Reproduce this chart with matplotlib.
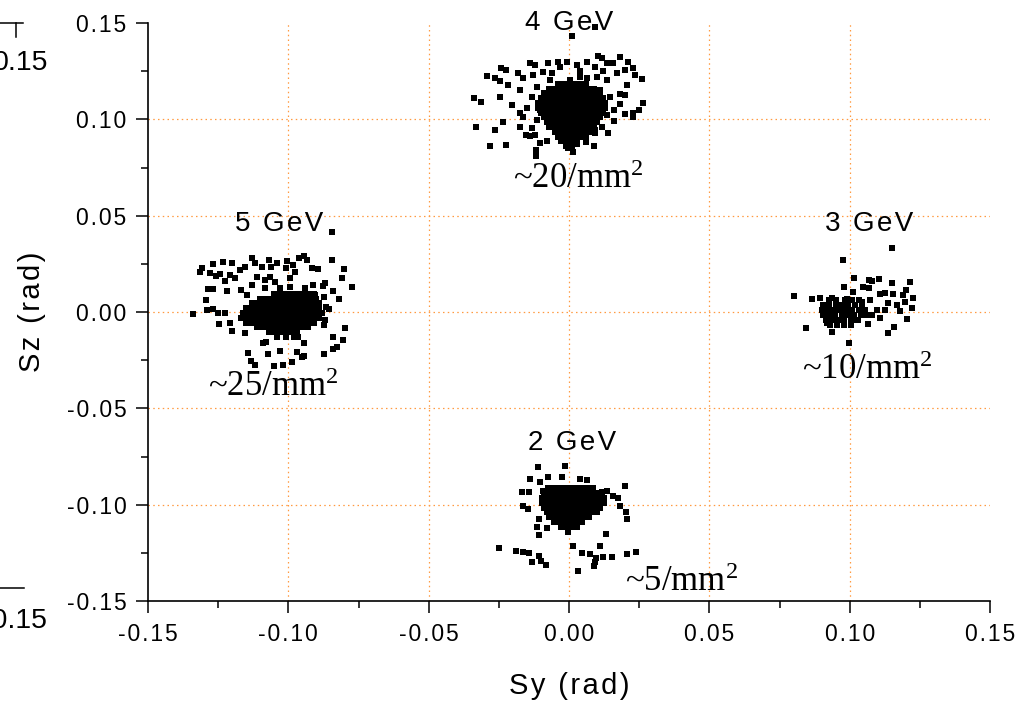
import matplotlib
matplotlib.use("Agg")
import matplotlib.pyplot as plt
from matplotlib.ticker import MultipleLocator, FuncFormatter
from matplotlib.lines import Line2D

plt.rcParams['font.family'] = ['Liberation Sans', 'DejaVu Sans']
plt.rcParams['mathtext.fontset'] = 'custom'
plt.rcParams['mathtext.rm'] = 'Liberation Serif'
plt.rcParams['mathtext.it'] = 'Liberation Serif:italic'

# ---------------- data (Sy, Sz in rad) ----------------
gev4_outer = [(0.0012, 0.1432), (0.0093, 0.1480), (-0.0293, 0.1224), (-0.0339, 0.1112), (-0.0315, 0.1091),
              (-0.0331, 0.0961), (-0.0282, 0.0861), (-0.0224, 0.0866), (-0.0264, 0.0944), (-0.0234, 0.0987),
              (-0.0243, 0.1264), (-0.0226, 0.1255), (-0.0264, 0.1212), (-0.0246, 0.1198), (-0.0216, 0.1177),
              (-0.0246, 0.1117), (-0.0204, 0.1074), (-0.0175, 0.1151), (-0.0181, 0.1241), (-0.0163, 0.1212),
              (-0.0139, 0.1290), (-0.0121, 0.1281), (-0.0129, 0.1229), (-0.0094, 0.1246), (-0.0074, 0.1290),
              (-0.0038, 0.1298), (-0.0008, 0.1298), (-0.0032, 0.1272), (0.0027, 0.1281), (0.0063, 0.1298),
              (0.0093, 0.1272), (0.0104, 0.1328), (0.0117, 0.1316), (0.0134, 0.1290), (0.0158, 0.1290),
              (0.0182, 0.1324), (0.0211, 0.1295), (0.0200, 0.1255), (0.0229, 0.1264), (0.0235, 0.1229),
              (0.0259, 0.1207), (0.0170, 0.1238), (0.0205, 0.1177), (0.0182, 0.1134), (0.0200, 0.1126),
              (0.0262, 0.1086), (0.0251, 0.1051), (0.0227, 0.1031), (0.0229, 0.1010), (0.0160, 0.1048),
              (0.0134, 0.1022), (0.0117, 0.0961), (0.0093, 0.0944), (0.0093, 0.0927), (0.0090, 0.0861),
              (0.0027, 0.0871), (0.0015, 0.0831), (-0.0002, 0.0849), (-0.0103, 0.0875), (-0.0118, 0.0840),
              (-0.0118, 0.0811), (-0.0133, 0.0953), (-0.0153, 0.0918), (-0.0139, 0.0913), (-0.0175, 0.0961),
              (-0.0175, 0.1031), (-0.0163, 0.1013), (-0.0133, 0.1117), (-0.0115, 0.1169), (-0.0068, 0.1203),
              (-0.0079, 0.1100), (-0.0103, 0.1048), (-0.0115, 0.0996), (0.0063, 0.1212), (0.0099, 0.1220),
              (0.0134, 0.1203), (0.0110, 0.1151), (0.0146, 0.1117), (0.0039, 0.1220), (0.0004, 0.1203),
              (-0.0060, 0.1240), (0.0040, 0.1250), (0.0120, 0.1250), (-0.0150, 0.1060), (0.0160, 0.0990),
              (0.0140, 0.0930), (-0.0120, 0.0920), (-0.0080, 0.0890), (0.0060, 0.0880), (0.0180, 0.1080),
              (0.0200, 0.1030)]
gev4_core = [(0.1185, [-0.004, -0.002, 0.000, 0.002, 0.004, 0.006]),
             (0.1160, [-0.007, -0.005, -0.003, -0.001, 0.001, 0.003, 0.005, 0.007, 0.009]),
             (0.1135, [-0.009, -0.007, -0.005, -0.003, -0.001, 0.001, 0.003, 0.005, 0.007, 0.009, 0.011]),
             (0.1110, [-0.010, -0.008, -0.006, -0.004, -0.002, 0.000, 0.002, 0.004, 0.006, 0.008, 0.010, 0.012]),
             (0.1085, [-0.011, -0.009, -0.007, -0.005, -0.003, -0.001, 0.001, 0.003, 0.005, 0.007, 0.009, 0.011, 0.013]),
             (0.1060, [-0.011, -0.009, -0.007, -0.005, -0.003, -0.001, 0.001, 0.003, 0.005, 0.007, 0.009, 0.011, 0.013]),
             (0.1035, [-0.010, -0.008, -0.006, -0.004, -0.002, 0.000, 0.002, 0.004, 0.006, 0.008, 0.010, 0.012]),
             (0.1010, [-0.009, -0.007, -0.005, -0.003, -0.001, 0.001, 0.003, 0.005, 0.007, 0.009, 0.011]),
             (0.0985, [-0.008, -0.006, -0.004, -0.002, 0.000, 0.002, 0.004, 0.006, 0.008, 0.010]),
             (0.0960, [-0.007, -0.005, -0.003, -0.001, 0.001, 0.003, 0.005, 0.007, 0.009]),
             (0.0935, [-0.005, -0.003, -0.001, 0.001, 0.003, 0.005, 0.007]),
             (0.0910, [-0.004, -0.002, 0.000, 0.002, 0.004, 0.006]),
             (0.0885, [-0.003, -0.001, 0.001, 0.003]),
             (0.0860, [-0.001, 0.001])]

gev5_outer = [(-0.0846, 0.0413), (-0.1339, -0.0010), (-0.1309, 0.0227), (-0.1315, 0.0209), (-0.1270, 0.0247),
              (-0.1232, 0.0258), (-0.1202, 0.0253), (-0.1279, 0.0201), (-0.1258, 0.0187), (-0.1244, 0.0197),
              (-0.1208, 0.0192), (-0.1226, 0.0161), (-0.1190, 0.0175), (-0.1172, 0.0218), (-0.1155, 0.0235),
              (-0.1131, 0.0279), (-0.1119, 0.0253), (-0.1095, 0.0235), (-0.1068, 0.0270), (-0.1060, 0.0235),
              (-0.1040, 0.0256), (-0.1006, 0.0266), (-0.1009, 0.0227), (-0.0983, 0.0244), (-0.0961, 0.0279),
              (-0.0944, 0.0290), (-0.0933, 0.0270), (-0.0917, 0.0227), (-0.0893, 0.0221), (-0.0846, 0.0270),
              (-0.0802, 0.0221), (-0.0810, 0.0178), (-0.0774, 0.0131), (-0.0840, 0.0110), (-0.0870, 0.0152),
              (-0.0876, 0.0135), (-0.0911, 0.0140), (-0.0819, 0.0067), (-0.0873, 0.0076), (-0.0854, 0.0014),
              (-0.0867, 0.0027), (-0.0870, -0.0041), (-0.0873, -0.0067), (-0.0798, -0.0085), (-0.0842, -0.0128),
              (-0.0804, -0.0145), (-0.0828, -0.0180), (-0.0840, -0.0192), (-0.0873, -0.0219), (-0.0944, -0.0227),
              (-0.0953, -0.0232), (-0.0970, -0.0206), (-0.0988, -0.0258), (-0.1018, -0.0275), (-0.1050, -0.0278),
              (-0.1030, -0.0201), (-0.1074, -0.0218), (-0.1118, -0.0275), (-0.1134, -0.0253), (-0.1143, -0.0214),
              (-0.1080, -0.0154), (-0.1089, -0.0159), (-0.0944, -0.0159), (-0.0965, -0.0128), (-0.1202, -0.0097),
              (-0.1246, -0.0062), (-0.1155, -0.0110), (-0.1289, 0.0010), (-0.1270, 0.0016), (-0.1294, 0.0062),
              (-0.1285, 0.0118), (-0.1270, 0.0118), (-0.1218, 0.0107), (-0.1250, -0.0007), (-0.1226, -0.0004),
              (-0.1208, -0.0059), (-0.1167, 0.0114), (-0.1149, 0.0088), (-0.1131, 0.0140), (-0.1113, 0.0183),
              (-0.1083, 0.0166), (-0.1066, 0.0183), (-0.1048, 0.0157), (-0.1030, 0.0123), (-0.0994, 0.0175),
              (-0.0976, 0.0209), (-0.0941, 0.0123), (-0.0905, 0.0088), (-0.0994, 0.0131), (-0.1083, 0.0123)]
gev5_core = [(0.0095, [-0.105, -0.103, -0.101, -0.099, -0.097, -0.095, -0.093, -0.091]),
             (0.0070, [-0.110, -0.108, -0.106, -0.104, -0.102, -0.100, -0.098, -0.096, -0.094, -0.092, -0.090]),
             (0.0045, [-0.113, -0.111, -0.109, -0.107, -0.105, -0.103, -0.101, -0.099, -0.097, -0.095, -0.093, -0.091, -0.089]),
             (0.0020, [-0.115, -0.113, -0.111, -0.109, -0.107, -0.105, -0.103, -0.101, -0.099, -0.097, -0.095, -0.093, -0.091, -0.089]),
             (-0.0005, [-0.116, -0.114, -0.112, -0.110, -0.108, -0.106, -0.104, -0.102, -0.100, -0.098, -0.096, -0.094, -0.092, -0.090, -0.088]),
             (-0.0030, [-0.117, -0.115, -0.113, -0.111, -0.109, -0.107, -0.105, -0.103, -0.101, -0.099, -0.097, -0.095, -0.093, -0.091, -0.089]),
             (-0.0055, [-0.115, -0.113, -0.111, -0.109, -0.107, -0.105, -0.103, -0.101, -0.099, -0.097, -0.095, -0.093, -0.091]),
             (-0.0080, [-0.111, -0.109, -0.107, -0.105, -0.103, -0.101, -0.099, -0.097, -0.095, -0.093]),
             (-0.0105, [-0.107, -0.105, -0.103, -0.101, -0.099, -0.097]),
             (-0.0130, [-0.104, -0.101, -0.098])]

gev3_outer = [(0.1152, 0.0334), (0.0978, 0.0268), (0.1017, 0.0178), (0.1069, 0.0166), (0.1079, 0.0161),
              (0.1106, 0.0170), (0.1152, 0.0152), (0.1215, 0.0154), (0.0980, 0.0128), (0.1013, 0.0105),
              (0.1049, 0.0131), (0.1070, 0.0123), (0.1108, 0.0092), (0.1126, 0.0097), (0.1154, 0.0093),
              (0.1200, 0.0114), (0.1191, 0.0088), (0.1225, 0.0074), (0.0802, 0.0083), (0.0865, 0.0067),
              (0.0895, 0.0071), (0.0936, 0.0074), (0.0992, 0.0067), (0.0845, -0.0085), (0.0936, -0.0105),
              (0.0998, -0.0159), (0.1138, -0.0110), (0.1158, -0.0076), (0.1203, -0.0036), (0.1221, 0.0022),
              (0.1180, 0.0005), (0.1108, -0.0033), (0.1067, -0.0062), (0.1031, -0.0041), (0.1197, 0.0053),
              (0.1168, 0.0036), (0.1138, 0.0045), (0.1073, 0.0062), (0.1043, 0.0053), (0.1097, 0.0010),
              (0.1126, 0.0010), (0.1079, -0.0016), (0.0918, -0.0059), (0.0912, 0.0019)]
gev3_core = [(0.0060, [0.0925, 0.0950, 0.0985, 0.1010, 0.1035]),
             (0.0035, [0.0905, 0.0928, 0.0950, 0.0972, 0.0995, 0.1020, 0.1045]),
             (0.0010, [0.0900, 0.0922, 0.0944, 0.0966, 0.0988, 0.1010, 0.1032, 0.1055]),
             (-0.0015, [0.0905, 0.0927, 0.0949, 0.0971, 0.0993, 0.1015, 0.1040, 0.1062]),
             (-0.0040, [0.0915, 0.0937, 0.0959, 0.0981, 0.1003, 0.1025]),
             (-0.0065, [0.0930, 0.0955, 0.0980, 0.1005])]

gev2_outer = [(-0.0014, -0.0797), (-0.0109, -0.0807), (-0.0074, -0.0857), (-0.0139, -0.0868), (-0.0103, -0.0880),
              (-0.0026, -0.0857), (0.0039, -0.0868), (0.0063, -0.0871), (0.0200, -0.0901), (-0.0166, -0.0935),
              (-0.0141, -0.0932), (-0.0094, -0.0927), (0.0117, -0.0932), (0.0134, -0.0929), (0.0158, -0.0954),
              (0.0176, -0.0963), (-0.0163, -0.1006), (-0.0145, -0.1020), (0.0182, -0.1006), (0.0203, -0.1036),
              (0.0206, -0.1075), (-0.0106, -0.1074), (-0.0115, -0.1117), (-0.0077, -0.1122), (-0.0107, -0.1160),
              (0.0131, -0.1153), (-0.0248, -0.1226), (-0.0190, -0.1238), (-0.0165, -0.1246), (-0.0144, -0.1252),
              (-0.0107, -0.1266), (-0.0133, -0.1300), (-0.0099, -0.1290), (-0.0082, -0.1314), (0.0013, -0.1217),
              (0.0045, -0.1252), (0.0075, -0.1257), (0.0110, -0.1214), (0.0096, -0.1278), (0.0093, -0.1295),
              (0.0089, -0.1316), (0.0120, -0.1274), (0.0152, -0.1272), (0.0208, -0.1257), (0.0238, -0.1248),
              (0.0032, -0.1343)]
gev2_core = [(-0.0915, [-0.0075, -0.0055, -0.0035, -0.0015, 0.0005, 0.0025, 0.0045, 0.0065, 0.0085]),
             (-0.0940, [-0.0090, -0.0070, -0.0050, -0.0030, -0.0010, 0.0010, 0.0030, 0.0050, 0.0070, 0.0090, 0.0110]),
             (-0.0965, [-0.0095, -0.0075, -0.0055, -0.0035, -0.0015, 0.0005, 0.0025, 0.0045, 0.0065, 0.0085, 0.0105, 0.0125]),
             (-0.0990, [-0.0095, -0.0075, -0.0055, -0.0035, -0.0015, 0.0005, 0.0025, 0.0045, 0.0065, 0.0085, 0.0105, 0.0125]),
             (-0.1015, [-0.0090, -0.0070, -0.0050, -0.0030, -0.0010, 0.0010, 0.0030, 0.0050, 0.0070, 0.0090, 0.0110]),
             (-0.1040, [-0.0080, -0.0060, -0.0040, -0.0020, 0.0000, 0.0020, 0.0040, 0.0060, 0.0080, 0.0100]),
             (-0.1065, [-0.0070, -0.0050, -0.0030, -0.0010, 0.0010, 0.0030, 0.0050, 0.0070]),
             (-0.1090, [-0.0055, -0.0035, -0.0015, 0.0005, 0.0025, 0.0045]),
             (-0.1115, [-0.0030, -0.0010, 0.0010, 0.0030]),
             (-0.1140, [-0.0005])]

energy_labels = ["4 GeV", "5 GeV", "3 GeV", "2 GeV"]
density_labels = ["~20/mm", "~25/mm", "~10/mm", "~5/mm"]
grid_values = [-0.10, -0.05, 0.00, 0.05, 0.10]

SP = '\u200a'


def spaced(s, sp=SP):
    return sp.join(list(s))


W, H = 1034, 707
fig = plt.figure(figsize=(W / 100, H / 100), dpi=100)
ax = fig.add_axes([148 / W, 1 - 601 / H, 842 / W, 578 / H])
ax.set_xlim(-0.15, 0.15)
ax.set_ylim(-0.15, 0.15)

grid_kw = dict(color='#ff9a40', lw=0.9, ls=(0, (1.2, 2.6)), zorder=1)
for g in grid_values:
    ax.axvline(g, **grid_kw)
    ax.axhline(g, **grid_kw)

mk = dict(ls='none', marker='s', ms=3.7, mew=0, color='black', zorder=3)
for outer, core in [(gev4_outer, gev4_core), (gev5_outer, gev5_core),
                    (gev3_outer, gev3_core), (gev2_outer, gev2_core)]:
    ax.plot([p[0] for p in outer], [p[1] for p in outer], **mk)
    cx = [x for y, xs in core for x in xs]
    cy = [y for y, xs in core for x in xs]
    ax.plot(cx, cy, **mk)

for s in ['top', 'right']:
    ax.spines[s].set_visible(False)
for s in ['left', 'bottom']:
    ax.spines[s].set_linewidth(1.2)

ax.xaxis.set_major_locator(MultipleLocator(0.05))
ax.xaxis.set_minor_locator(MultipleLocator(0.025))
ax.yaxis.set_major_locator(MultipleLocator(0.05))
ax.yaxis.set_minor_locator(MultipleLocator(0.025))
fmt = FuncFormatter(lambda v, p: spaced(f"{v:.2f}".replace('-0.00', '0.00')))
ax.xaxis.set_major_formatter(fmt)
ax.yaxis.set_major_formatter(fmt)
ax.tick_params(which='major', direction='out', length=8.5, width=1.1, labelsize=16.5, pad=7)
ax.tick_params(which='minor', direction='out', length=4.8, width=1.1)

# axis titles
fig.text(569 / W, 1 - 686 / H, spaced("Sy (rad)"), fontsize=21, ha='center', va='center')
fig.text(32 / W, 1 - 312 / H, spaced("Sz (rad)"), fontsize=21, ha='center', va='center', rotation=90)

# energy labels
sans_kw = dict(fontsize=20, ha='center', va='center', clip_on=False, zorder=4)
ax.text(0.0000, 0.1500, spaced(energy_labels[0]), **sans_kw)
ax.text(-0.1033, 0.0456, spaced(energy_labels[1]), **sans_kw)
ax.text(0.1069, 0.0456, spaced(energy_labels[2]), **sans_kw)
ax.text(0.0012, -0.0680, spaced(energy_labels[3]), **sans_kw)

serif_kw = dict(fontsize=25, ha='left', va='center', family=['Liberation Serif', 'DejaVu Serif'],
                clip_on=False, zorder=4)
ax.text(-0.0200, 0.0687, density_labels[0] + '$^{2}$', **serif_kw)
ax.text(-0.1286, -0.0390, density_labels[1] + '$^{2}$', **serif_kw)
ax.text(0.0830, -0.0305, density_labels[2] + '$^{2}$', **serif_kw)
ax.text(0.0200, -0.1406, density_labels[3] + '$^{2}$', **serif_kw)

# partial overlay remnants at the left edge
fig.add_artist(Line2D([0, 23 / W], [1 - 23 / H, 1 - 23 / H], color='black', lw=1.1))
fig.add_artist(Line2D([16 / W, 16 / W], [1 - 23 / H, 1 - 37 / H], color='black', lw=1.1))
fig.add_artist(Line2D([0, 24 / W], [1 - 588 / H, 1 - 588 / H], color='black', lw=1.1))
fig.text(48 / W, 1 - 63.5 / H, "0.15", fontsize=20.5, ha='right', va='center')
fig.text(48 / W, 1 - 621.5 / H, "-0.15", fontsize=20.5, ha='right', va='center')

fig.savefig('out.png', dpi=100)
